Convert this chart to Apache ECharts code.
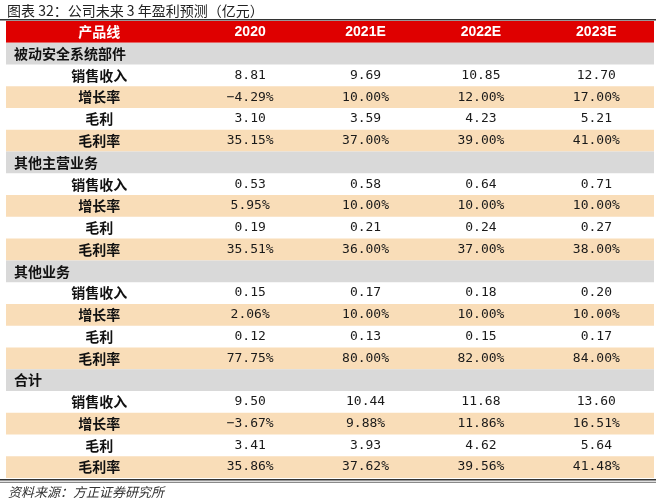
<!DOCTYPE html>
<html>
<head>
<meta charset="utf-8">
<script src="https://cdn.jsdelivr.net/npm/echarts@6/dist/echarts.min.js"></script>
<style>
  html, body { margin: 0; padding: 0; background: #fff; }
  #main { width: 656px; height: 502px; }
</style>
</head>
<body>
<div id="main"></div>
<script>
// 表头与行名
var headerLabel = '产品线';
var years = ['2020', '2021E', '2022E', '2023E'];
var segments = ['被动安全系统部件', '其他主营业务', '其他业务', '合计'];
var metrics = ['销售收入', '增长率', '毛利', '毛利率'];

// 被动安全系统部件
var passiveRevenue = [8.81, 9.69, 10.85, 12.70];
var passiveGrowth = [-4.29, 10.00, 12.00, 17.00];
var passiveProfit = [3.10, 3.59, 4.23, 5.21];
var passiveMargin = [35.15, 37.00, 39.00, 41.00];
// 其他主营业务
var otherMainRevenue = [0.53, 0.58, 0.64, 0.71];
var otherMainGrowth = [5.95, 10.00, 10.00, 10.00];
var otherMainProfit = [0.19, 0.21, 0.24, 0.27];
var otherMainMargin = [35.51, 36.00, 37.00, 38.00];
// 其他业务
var otherRevenue = [0.15, 0.17, 0.18, 0.20];
var otherGrowth = [2.06, 10.00, 10.00, 10.00];
var otherProfit = [0.12, 0.13, 0.15, 0.17];
var otherMargin = [77.75, 80.00, 82.00, 84.00];
// 合计
var totalRevenue = [9.50, 10.44, 11.68, 13.60];
var totalGrowth = [-3.67, 9.88, 11.86, 16.51];
var totalProfit = [3.41, 3.93, 4.62, 5.64];
var totalMargin = [35.86, 37.62, 39.56, 41.48];

var segmentData = [
    [passiveRevenue, passiveGrowth, passiveProfit, passiveMargin],
    [otherMainRevenue, otherMainGrowth, otherMainProfit, otherMainMargin],
    [otherRevenue, otherGrowth, otherProfit, otherMargin],
    [totalRevenue, totalGrowth, totalProfit, totalMargin]
];

var LABEL_W = 1.616;   // 第一列相对宽度
var RED = '#df0000', GREY = '#d9d9d9', PEACH = '#f9ddb8';
var CJK = '"Noto Sans CJK SC", sans-serif';
var NUM = '"DejaVu Sans Mono", monospace';

function fmt(v, pct) {
    var s = Math.abs(v).toFixed(2) + (pct ? '%' : '');
    return v < 0 ? '\u2212' + s : s;
}
function colLeft(c) { return c === 0 ? 0 : LABEL_W + (c - 1); }
function colRight(c) { return c === 0 ? LABEL_W : LABEL_W + c; }

// 组装单元格
var cells = [];
var row = 0;
cells.push({ kind: 'bg', col: 0, row: row, color: RED });
cells.push({ kind: 'head', col: 0, row: row, text: headerLabel, font: CJK });
years.forEach(function (y, i) {
    cells.push({ kind: 'head', col: i + 1, row: row, text: y, font: '"Liberation Sans", Arial, sans-serif' });
});
segments.forEach(function (seg, g) {
    row++;
    cells.push({ kind: 'bg', col: 0, row: row, color: GREY });
    cells.push({ kind: 'group', col: 0, row: row, text: seg });
    metrics.forEach(function (m, k) {
        row++;
        if (k % 2 === 1) cells.push({ kind: 'bg', col: 0, row: row, color: PEACH });
        cells.push({ kind: 'label', col: 0, row: row, text: m });
        segmentData[g][k].forEach(function (v, i) {
            cells.push({ kind: 'value', col: i + 1, row: row, text: fmt(v, k % 2 === 1) });
        });
    });
});
var rowCount = row + 1;

function renderItem(params, api) {
    var c = cells[params.dataIndex];
    var r = api.value(1);
    if (c.kind === 'bg') {
        var a = api.coord([0, r]), b = api.coord([LABEL_W + years.length, r + 1]);
        return { type: 'rect', shape: { x: a[0], y: a[1], width: b[0] - a[0], height: b[1] - a[1] },
                 style: { fill: c.color } };
    }
    var p0 = api.coord([colLeft(c.col), r]), p1 = api.coord([colRight(c.col), r + 1]);
    var cy = (p0[1] + p1[1]) / 2;
    var style;
    if (c.kind === 'head') {
        style = { text: c.text, x: (p0[0] + p1[0]) / 2, y: cy, fill: '#fff',
                  font: 'bold 14px ' + c.font, align: 'center', verticalAlign: 'middle' };
    } else if (c.kind === 'group') {
        style = { text: c.text, x: p0[0] + 8, y: cy, fill: '#111',
                  font: 'bold 14px ' + CJK, align: 'left', verticalAlign: 'middle' };
    } else if (c.kind === 'label') {
        style = { text: c.text, x: (p0[0] + p1[0]) / 2, y: cy, fill: '#111',
                  font: 'bold 14px ' + CJK, align: 'center', verticalAlign: 'middle' };
    } else {
        style = { text: c.text, x: (p0[0] + p1[0]) / 2, y: cy, fill: '#1a1a1a',
                  font: '13px ' + NUM, align: 'center', verticalAlign: 'middle' };
    }
    return { type: 'text', style: style };
}

var chart = echarts.init(document.getElementById('main'));
chart.setOption({
    animation: false,
    title: [{
        text: '图表 32：公司未来 3 年盈利预测（亿元）',
        left: 2, top: -1,
        textStyle: { fontFamily: CJK, fontSize: 14, fontWeight: 'normal', color: '#222' }
    }, {
        text: '资料来源：方正证券研究所',
        left: 3, top: 481,
        textStyle: { fontFamily: CJK, fontSize: 13, fontWeight: 'normal', fontStyle: 'italic', color: '#333' }
    }],
    grid: { left: 6, right: 2, top: 21, bottom: 24 },
    xAxis: { type: 'value', min: 0, max: LABEL_W + years.length, show: false },
    yAxis: { type: 'value', min: 0, max: rowCount, inverse: true, show: false },
    graphic: [
        { type: 'line', shape: { x1: 0, y1: 19.8, x2: 656, y2: 19.8 }, style: { stroke: '#333', lineWidth: 1.6 } },
        { type: 'line', shape: { x1: 0, y1: 479.8, x2: 656, y2: 479.8 }, style: { stroke: '#333', lineWidth: 1.5 } },
        { type: 'line', shape: { x1: 0, y1: 482.3, x2: 656, y2: 482.3 }, style: { stroke: '#444', lineWidth: 0.8 } }
    ],
    series: [{
        type: 'custom',
        renderItem: renderItem,
        data: cells.map(function (c) { return [c.col, c.row]; }),
        silent: true
    }]
});
</script>
</body>
</html>
